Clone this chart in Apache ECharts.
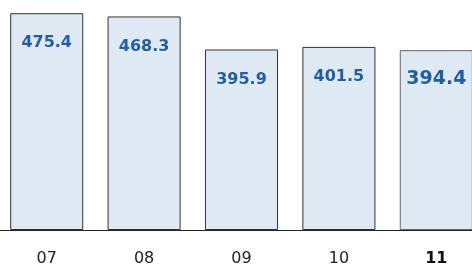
<!DOCTYPE html>
<html>
<head>
<meta charset="utf-8">
<script src="https://cdn.jsdelivr.net/npm/echarts@6/dist/echarts.min.js"></script>
<style>
  html, body { margin: 0; padding: 0; background: #fff; }
  #chart { width: 472px; height: 266px; }
</style>
</head>
<body>
<div id="chart"></div>
<script>
// years (last one highlighted)
const categories = ['07', '08', '09', '10', '11']
const values = [475.4, 468.3, 395.9, 401.5, 394.4]

const chart = echarts.init(document.getElementById('chart'))

const lastIdx = values.length - 1

const option = {
  animation: false,
  backgroundColor: '#fff',
  grid: {
    left: -2,
    width: 487,
    top: 2,
    bottom: 36,
    outerBoundsMode: 'none'
  },
  xAxis: {
    type: 'category',
    data: categories,
    axisTick: { show: false },
    axisLine: { lineStyle: { color: '#222', width: 1 } },
    axisLabel: {
      margin: 21,
      fontFamily: 'DejaVu Sans',
      fontSize: 16,
      color: '#222',
      formatter: (v, i) => i === lastIdx ? '{b|' + v + '}' : v,
      rich: {
        b: { fontFamily: 'DejaVu Sans', fontSize: 16, fontWeight: 'bold', color: '#111' }
      }
    }
  },
  yAxis: {
    type: 'value',
    min: 0,
    max: 500,
    show: false
  },
  series: [
    {
      type: 'bar',
      data: values.map((v, i) => ({
        value: v,
        itemStyle: i === lastIdx ? { borderColor: '#666' } : {},
        label: i === lastIdx ? { fontSize: 19, distance: 19 } : {}
      })),
      barWidth: '75%',
      itemStyle: {
        color: '#dfe9f3',
        borderColor: '#333',
        borderWidth: 1
      },
      label: {
        show: true,
        position: 'insideTop',
        distance: 22,
        fontFamily: 'DejaVu Sans',
        fontWeight: 'bold',
        fontSize: 16,
        color: '#1f5fa8'
      }
    }
  ]
}

chart.setOption(option)
</script>
</body>
</html>
